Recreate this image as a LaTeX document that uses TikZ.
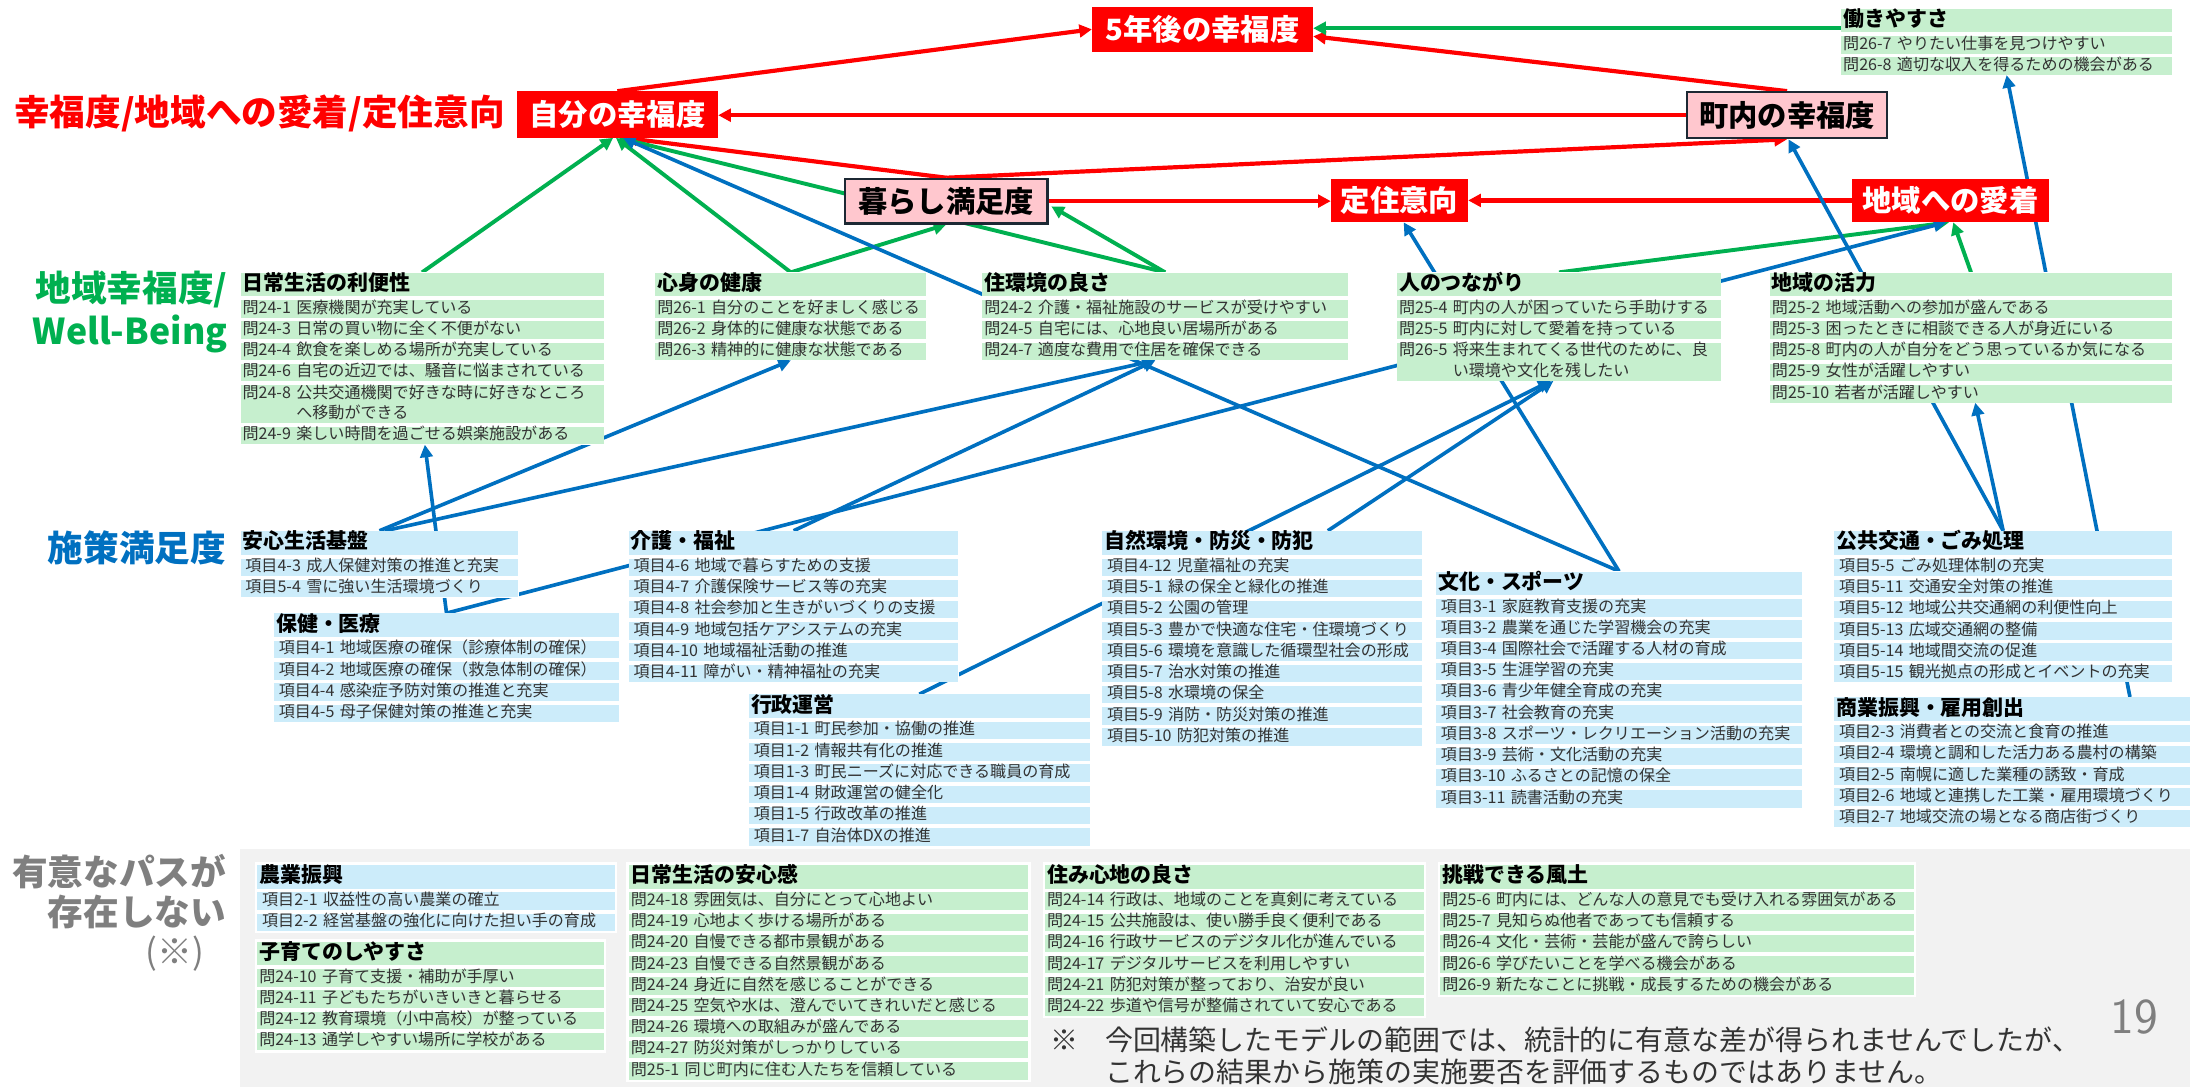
\documentclass[tikz,border=0pt]{standalone}
\usepackage{fontspec}
\setmainfont{Noto Sans CJK JP}
\usetikzlibrary{arrows.meta,calc}
\definecolor{cred}{RGB}{255,0,0}
\definecolor{cgreen}{RGB}{0,176,80}
\definecolor{cblue}{RGB}{0,112,192}
\definecolor{lgreen}{RGB}{198,239,206}
\definecolor{lblue}{RGB}{204,236,250}
\definecolor{pinkfill}{RGB}{255,199,206}
\definecolor{boxline}{RGB}{28,40,51}
\definecolor{panel}{RGB}{242,242,242}
\definecolor{gtext}{RGB}{127,127,127}
\pgfdeclarelayer{bg}
\pgfdeclarelayer{lines}
\pgfdeclarelayer{backs}
\pgfsetlayers{bg,lines,backs,main}
\newcounter{rowc}
\newcommand\grp[7][0]{%
  \pgfmathsetmacro\grpTW{#5-3}%
  \node[hdr,fill=#6,minimum width=#5pt,text width=\grpTW pt,anchor=north west] (#2) at (#3,#4) {#7};%
  \xdef\prevnode{#2}\xdef\grpname{#2}\xdef\grpfill{#6}\xdef\grpwidth{#5}\xdef\grptw{\grpTW}\xdef\grpind{#1}\setcounter{rowc}{0}}
\newcommand\itemrow[2][0]{%
  \stepcounter{rowc}%
  \pgfmathsetmacro\rowdp{3.2+#1*14.8}%
  \edef\rowname{\grpname-\arabic{rowc}}%
  \node[itm,fill=\grpfill,minimum width=\grpwidth pt,text width=\grptw pt,text depth=\rowdp pt,anchor=north west] (\rowname) at ([yshift=-2.3pt]\prevnode.south west) {\hspace*{\grpind pt}#2};%
  \xdef\prevnode{\rowname}}
\tikzset{
  hdr/.style={inner xsep=1.5pt,inner ysep=1.25pt,text height=11.5pt,text depth=3pt,font=\fontsize{15}{18}\selectfont\bfseries,align=left,text=black},
  itm/.style={inner xsep=1.5pt,inner ysep=0pt,text height=9.3pt,font=\fontsize{11.5}{14.8}\selectfont,align=left,text=black!80},
  redbox/.style={fill=cred,text=white,font=\fontsize{21}{24}\selectfont\bfseries,inner sep=0pt},
  pinkbox/.style={fill=pinkfill,draw=boxline,line width=1.5pt,text=black,font=\fontsize{21}{24}\selectfont\bfseries,inner sep=0pt},
  biglbl/.style={font=\fontsize{25.5}{28}\selectfont\bfseries,inner sep=0pt},
  redarr/.style={draw=cred,line width=3pt,-{Triangle[length=9pt,width=9pt]}},
  grarr/.style={draw=cgreen,line width=2.8pt,-{Triangle[length=9pt,width=9pt]}},
  blarr/.style={draw=cblue,line width=2.6pt,-{Triangle[length=9pt,width=9pt]}}
}
\begin{document}
\begin{tikzpicture}[x=1pt,y=-1pt]
\useasboundingbox (0,0) rectangle (1568,778);
% ---------- top level ----------
\node[redbox,minimum width=158pt,minimum height=32pt] (gonen) at (861,21) {5年後の幸福度};
\node[redbox,minimum width=144pt,minimum height=33pt] (jibun) at (442,82) {自分の幸福度};
\node[pinkbox,minimum width=143pt,minimum height=33pt] (chonai) at (1279.5,82.5) {町内の幸福度};
\node[pinkbox,minimum width=145pt,minimum height=32pt] (kurashi) at (677.5,144) {暮らし満足度};
\node[redbox,minimum width=98pt,minimum height=31pt] (teiju) at (1002,143.5) {定住意向};
\node[redbox,minimum width=141pt,minimum height=31pt] (aichaku) at (1396.5,143.5) {地域への愛着};
% ---------- left labels ----------
\node[biglbl,text=cred,anchor=west] (lblA) at (10,81) {幸福度/地域への愛着/定住意向};
\node[biglbl,text=cgreen,anchor=east] (lblB1) at (163,207) {地域幸福度/};
\node[biglbl,text=cgreen,anchor=base east] (lblB2) at (163,247) {Well-Being};
\node[biglbl,text=cblue,anchor=east] (lblC) at (162,392) {施策満足度};
\node[biglbl,text=gtext,anchor=east] (lblD1) at (162,624) {有意なパスが};
\node[biglbl,text=gtext,anchor=east] (lblD2) at (162,653) {存在しない};
\node[font=\fontsize{25}{28}\selectfont,text=gtext,inner sep=0pt] (lblD3) at (125,683) {(※)};
% ---------- well-being row ----------
\grp{hataraki}{1318}{6}{237}{lgreen}{働きやすさ}
\itemrow{問26-7~やりたい仕事を見つけやすい}
\itemrow{問26-8~適切な収入を得るための機会がある}
\grp{nichijo}{172}{195}{260}{lgreen}{日常生活の利便性}
\itemrow{問24-1~医療機関が充実している}
\itemrow{問24-3~日常の買い物に全く不便がない}
\itemrow{問24-4~飲食を楽しめる場所が充実している}
\itemrow{問24-6~自宅の近辺では、騒音に悩まされている}
\itemrow[1]{問24-8~公共交通機関で好きな時に好きなところ\\\phantom{問24-8~}へ移動ができる}
\itemrow{問24-9~楽しい時間を過ごせる娯楽施設がある}
\grp{shinshin}{469}{195}{194}{lgreen}{心身の健康}
\itemrow{問26-1~自分のことを好ましく感じる}
\itemrow{問26-2~身体的に健康な状態である}
\itemrow{問26-3~精神的に健康な状態である}
\grp{jukankyo}{703}{195}{262}{lgreen}{住環境の良さ}
\itemrow{問24-2~介護・福祉施設のサービスが受けやすい}
\itemrow{問24-5~自宅には、心地良い居場所がある}
\itemrow{問24-7~適度な費用で住居を確保できる}
\grp{tsunagari}{1000}{195}{232}{lgreen}{人のつながり}
\itemrow{問25-4~町内の人が困っていたら手助けする}
\itemrow{問25-5~町内に対して愛着を持っている}
\itemrow[1]{問26-5~将来生まれてくる世代のために、良\\\phantom{問26-5~}い環境や文化を残したい}
\grp{katsuryoku}{1267}{195}{288}{lgreen}{地域の活力}
\itemrow{問25-2~地域活動への参加が盛んである}
\itemrow{問25-3~困ったときに相談できる人が身近にいる}
\itemrow{問25-8~町内の人が自分をどう思っているか気になる}
\itemrow{問25-9~女性が活躍しやすい}
\itemrow{問25-10~若者が活躍しやすい}
% ---------- policy row ----------
\grp[2]{anshin}{172}{380}{199}{lblue}{安心生活基盤}
\itemrow{項目4-3~成人保健対策の推進と充実}
\itemrow{項目5-4~雪に強い生活環境づくり}
\grp[2]{hoken}{196}{439}{247}{lblue}{保健・医療}
\itemrow{項目4-1~地域医療の確保（診療体制の確保）}
\itemrow{項目4-2~地域医療の確保（救急体制の確保）}
\itemrow{項目4-4~感染症予防対策の推進と充実}
\itemrow{項目4-5~母子保健対策の推進と充実}
\grp[2]{kaigo}{450}{380}{236}{lblue}{介護・福祉}
\itemrow{項目4-6~地域で暮らすための支援}
\itemrow{項目4-7~介護保険サービス等の充実}
\itemrow{項目4-8~社会参加と生きがいづくりの支援}
\itemrow{項目4-9~地域包括ケアシステムの充実}
\itemrow{項目4-10~地域福祉活動の推進}
\itemrow{項目4-11~障がい・精神福祉の充実}
\grp[2]{gyosei}{536}{497}{244}{lblue}{行政運営}
\itemrow{項目1-1~町民参加・協働の推進}
\itemrow{項目1-2~情報共有化の推進}
\itemrow{項目1-3~町民ニーズに対応できる職員の育成}
\itemrow{項目1-4~財政運営の健全化}
\itemrow{項目1-5~行政改革の推進}
\itemrow{項目1-7~自治体DXの推進}
\grp[2]{shizen}{789}{380}{229}{lblue}{自然環境・防災・防犯}
\itemrow{項目4-12~児童福祉の充実}
\itemrow{項目5-1~緑の保全と緑化の推進}
\itemrow{項目5-2~公園の管理}
\itemrow{項目5-3~豊かで快適な住宅・住環境づくり}
\itemrow{項目5-6~環境を意識した循環型社会の形成}
\itemrow{項目5-7~治水対策の推進}
\itemrow{項目5-8~水環境の保全}
\itemrow{項目5-9~消防・防災対策の推進}
\itemrow{項目5-10~防犯対策の推進}
\grp[2]{bunka}{1028}{409}{262}{lblue}{文化・スポーツ}
\itemrow{項目3-1~家庭教育支援の充実}
\itemrow{項目3-2~農業を通じた学習機会の充実}
\itemrow{項目3-4~国際社会で活躍する人材の育成}
\itemrow{項目3-5~生涯学習の充実}
\itemrow{項目3-6~青少年健全育成の充実}
\itemrow{項目3-7~社会教育の充実}
\itemrow{項目3-8~スポーツ・レクリエーション活動の充実}
\itemrow{項目3-9~芸術・文化活動の充実}
\itemrow{項目3-10~ふるさとの記憶の保全}
\itemrow{項目3-11~読書活動の充実}
\grp[2]{kotsu}{1313}{380}{242}{lblue}{公共交通・ごみ処理}
\itemrow{項目5-5~ごみ処理体制の充実}
\itemrow{項目5-11~交通安全対策の推進}
\itemrow{項目5-12~地域公共交通網の利便性向上}
\itemrow{項目5-13~広域交通網の整備}
\itemrow{項目5-14~地域間交流の促進}
\itemrow{項目5-15~観光拠点の形成とイベントの充実}
\grp[2]{shogyo}{1313}{499}{255}{lblue}{商業振興・雇用創出}
\itemrow{項目2-3~消費者との交流と食育の推進}
\itemrow{項目2-4~環境と調和した活力ある農村の構築}
\itemrow{項目2-5~南幌に適した業種の誘致・育成}
\itemrow{項目2-6~地域と連携した工業・雇用環境づくり}
\itemrow{項目2-7~地域交流の場となる商店街づくり}
% ---------- no significant path ----------
\grp[2]{nogyo}{184}{619}{256}{lblue}{農業振興}
\itemrow{項目2-1~収益性の高い農業の確立}
\itemrow{項目2-2~経営基盤の強化に向けた担い手の育成}
\grp{kosodate}{184}{674}{248}{lgreen}{子育てのしやすさ}
\itemrow{問24-10~子育て支援・補助が手厚い}
\itemrow{問24-11~子どもたちがいきいきと暮らせる}
\itemrow{問24-12~教育環境（小中高校）が整っている}
\itemrow{問24-13~通学しやすい場所に学校がある}
\grp{anshinkan}{450}{619}{286}{lgreen}{日常生活の安心感}
\itemrow{問24-18~雰囲気は、自分にとって心地よい}
\itemrow{問24-19~心地よく歩ける場所がある}
\itemrow{問24-20~自慢できる都市景観がある}
\itemrow{問24-23~自慢できる自然景観がある}
\itemrow{問24-24~身近に自然を感じることができる}
\itemrow{問24-25~空気や水は、澄んでいてきれいだと感じる}
\itemrow{問24-26~環境への取組みが盛んである}
\itemrow{問24-27~防災対策がしっかりしている}
\itemrow{問25-1~同じ町内に住む人たちを信頼している}
\grp{sumigokochi}{748}{619}{271}{lgreen}{住み心地の良さ}
\itemrow{問24-14~行政は、地域のことを真剣に考えている}
\itemrow{問24-15~公共施設は、使い勝手良く便利である}
\itemrow{問24-16~行政サービスのデジタル化が進んでいる}
\itemrow{問24-17~デジタルサービスを利用しやすい}
\itemrow{問24-21~防犯対策が整っており、治安が良い}
\itemrow{問24-22~歩道や信号が整備されていて安心である}
\grp{chosen}{1031}{619}{339}{lgreen}{挑戦できる風土}
\itemrow{問25-6~町内には、どんな人の意見でも受け入れる雰囲気がある}
\itemrow{問25-7~見知らぬ他者であっても信頼する}
\itemrow{問26-4~文化・芸術・芸能が盛んで誇らしい}
\itemrow{問26-6~学びたいことを学べる機会がある}
\itemrow{問26-9~新たなことに挑戦・成長するための機会がある}
% ---------- note and page number ----------
\node[font=\fontsize{20}{23}\selectfont,text=black!80,align=left,inner sep=0pt,anchor=base west] (note) at (752,775) {\makebox[39pt][l]{※}今回構築したモデルの範囲では、統計的に有意な差が得られませんでしたが、\\\hspace*{39pt}これらの結果から施策の実施要否を評価するものではありません。};
\node[font=\sffamily\fontsize{36}{40}\selectfont,text=gtext,anchor=base,inner sep=0pt] (pagenum) at (1528,740) {19};
% ---------- backgrounds ----------
\begin{pgfonlayer}{bg}
\fill[panel] (172,608) rectangle (1568,778);
\foreach \a/\b in {nogyo/nogyo-2,kosodate/kosodate-4,anshinkan/anshinkan-9,sumigokochi/sumigokochi-6,chosen/chosen-5}
  \fill[white] ($(\a.north west)+(-1.5,-1.5)$) rectangle ($(\b.south east)+(1.5,1.5)$);
\end{pgfonlayer}
\begin{pgfonlayer}{backs}
\foreach \a/\b in {hataraki/hataraki-2,nichijo/nichijo-6,shinshin/shinshin-3,jukankyo/jukankyo-3,tsunagari/tsunagari-3,katsuryoku/katsuryoku-5,anshin/anshin-2,hoken/hoken-4,kaigo/kaigo-6,gyosei/gyosei-6,shizen/shizen-9,bunka/bunka-10,kotsu/kotsu-6,shogyo/shogyo-5}
  \fill[white] (\a.north west) rectangle (\b.south east);
\end{pgfonlayer}
% ---------- connectors ----------
\begin{pgfonlayer}{lines}
% red
\draw[redarr] (jibun.north) -- (gonen.west);
\draw[redarr] (chonai.west) -- (chonai.west -| jibun.east);
\draw[redarr] (chonai.north) -- ($(gonen.east)+(0,5)$);
\draw[redarr] (kurashi.north) -- ($(jibun.south)+(5,0)$);
\draw[redarr] (kurashi.north) -- (chonai.south);
\draw[redarr] (kurashi.east) -- (kurashi.east -| teiju.west);
\draw[redarr] (aichaku.west) -- (aichaku.west -| teiju.east);
% green
\coordinate (g1s) at ($(hataraki.west)+(0,5.5)$);
\draw[grarr] (g1s) -- (g1s -| gonen.east);
\draw[grarr] (nichijo.north) -- ($(jibun.south)+(-3,0)$);
\draw[grarr] (shinshin.north) -- ($(jibun.south)+(-1,0)$);
\draw[grarr] (shinshin.north) -- (kurashi.south);
\draw[grarr] (jukankyo.north) -- ($(jibun.south)+(1,0)$);
\draw[grarr] (jukankyo.north) -- ($(kurashi.south east)+(2,-13)$);
\draw[grarr] (tsunagari.north) -- ($(aichaku.south)+(-1,0)$);
\draw[grarr] (katsuryoku.north) -- ($(aichaku.south)+(2,0)$);
% blue
\draw[blarr] (anshin.north) -- (shinshin-3.south);
\draw[blarr] ($(anshin.north)+(4,0)$) -- ($(jukankyo-3.south)+(-7,0)$);
\draw[blarr] (hoken.north) -- ($(nichijo-6.south)+(2,0)$);
\draw[blarr] (hoken.north) -- ($(aichaku.south)+(-3,0)$);
\draw[blarr] (kaigo.north) -- ($(jukankyo-3.south)+(-7,0)$);
\draw[blarr] (gyosei.north) -- ($(tsunagari-3.south)+(-6,0)$);
\draw[blarr] ($(shizen.north)+(47,0)$) -- ($(tsunagari-3.south)+(-4,0)$);
\draw[blarr] (bunka.north) -- ($(jibun.south)+(4,0)$);
\draw[blarr] (bunka.north) -- ($(teiju.south)+(3,0)$);
\draw[blarr] (kotsu.north) -- ($(katsuryoku-5.south)+(3,0)$);
\draw[blarr] (kotsu.north) -- ($(chonai.south)+(1,0)$);
\draw[blarr] ($(shogyo.north west)+(212,0)$) -- (hataraki-2.south);
\end{pgfonlayer}
\end{tikzpicture}
\end{document}
